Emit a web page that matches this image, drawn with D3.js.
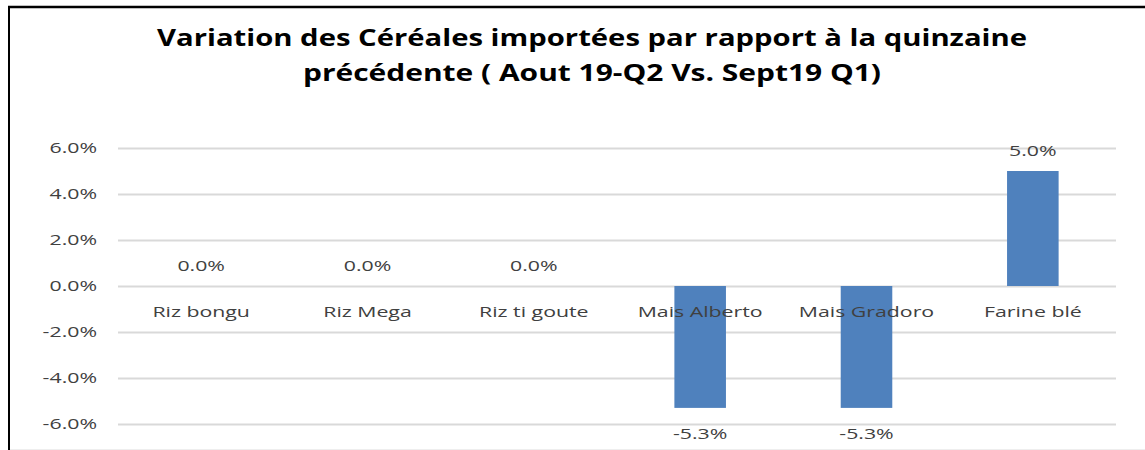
<!DOCTYPE html>
<html><head><meta charset="utf-8">
<script src="https://cdn.jsdelivr.net/npm/d3@7"></script>
<style>body{margin:0;background:#fff}svg{display:block}</style>
</head><body>
<script>
const categories = ["Riz bongu","Riz Mega","Riz ti goute","Mais Alberto","Mais Gradoro","Farine blé"];
const values = [0.0, 0.0, 0.0, -0.053, -0.053, 0.05];
const yTicks = [-0.06,-0.04,-0.02,0,0.02,0.04,0.06];
const titleLines = ["Variation des Céréales importées par rapport à la quinzaine","précédente ( Aout 19-Q2 Vs. Sept19 Q1)"];

const W=1145,H=450, SX=1.42;
const svg=d3.select("body").append("svg").attr("width",W).attr("height",H);
svg.append("rect").attr("width",W).attr("height",H).attr("fill","#fff");
// frame
svg.append("line").attr("x1",8).attr("x2",W).attr("y1",7).attr("y2",7).attr("stroke","#000").attr("stroke-width",2.5);
svg.append("line").attr("x1",9).attr("x2",9).attr("y1",6).attr("y2",H).attr("stroke","#000").attr("stroke-width",2);
svg.append("line").attr("x1",10).attr("x2",W).attr("y1",449.5).attr("y2",449.5).attr("stroke","#eee").attr("stroke-width",1);

const x=d3.scaleBand().domain(categories).range([118,1116]).paddingInner(0.69).paddingOuter(0.345);
const y=d3.scaleLinear().domain([-0.06,0.06]).range([424,148]);
const fmt=d=>d3.format(".1%")(d).replace("\u2212","-");

const yAxis=svg.append("g").attr("transform","translate(118,0)")
  .call(d3.axisLeft(y).tickValues(yTicks).tickFormat(fmt).tickSize(-998).tickPadding(21));
yAxis.select(".domain").remove();
yAxis.selectAll("line").attr("stroke","#d9d9d9").attr("stroke-width",2);
yAxis.selectAll("text").attr("fill","#404040").style("font-family","Open Sans").style("font-size","15px")
  .attr("x",null).attr("transform",`translate(-21,0) scale(${SX},1)`);

svg.selectAll("rect.bar").data(values).join("rect").attr("class","bar")
  .attr("x",(d,i)=>x(categories[i])).attr("width",x.bandwidth())
  .attr("y",d=>y(Math.max(0,d))).attr("height",d=>Math.abs(y(d)-y(0)))
  .attr("fill","#4f81bd");

// category labels
svg.selectAll("text.cat").data(categories).join("text").attr("class","cat")
  .attr("transform",d=>`translate(${x(d)+x.bandwidth()/2},317) scale(${SX},1)`)
  .attr("text-anchor","middle").attr("fill","#404040")
  .style("font-family","Open Sans").style("font-size","15px").text(d=>d);

// value labels
svg.selectAll("text.val").data(values).join("text").attr("class","val")
  .attr("transform",(d,i)=>`translate(${x(categories[i])+x.bandwidth()/2},${d<0 ? y(d)+31 : y(d)-15}) scale(${SX},1)`)
  .attr("text-anchor","middle").attr("fill","#404040")
  .style("font-family","Open Sans").style("font-size","15px").text(d=>fmt(d));

// title
svg.selectAll("text.title").data(titleLines).join("text").attr("class","title")
  .attr("x",592).attr("y",(d,i)=>46+i*35).attr("text-anchor","middle")
  .attr("fill","#000").style("font-family","Open Sans").style("font-weight","bold").style("font-size","23px")
  .attr("textLength",(d,i)=>i===0?870:578).attr("lengthAdjust","spacingAndGlyphs").text(d=>d);
</script>
</body></html>
